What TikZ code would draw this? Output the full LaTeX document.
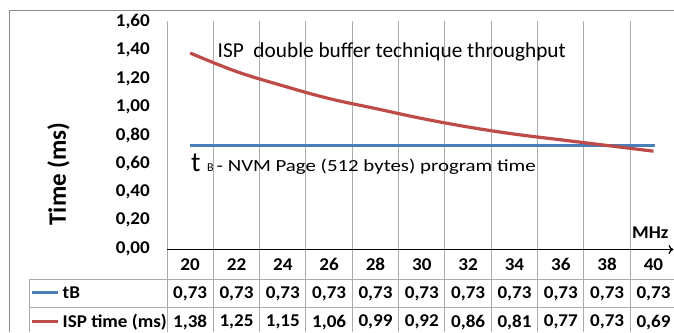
\documentclass[tikz,border=0pt]{standalone}
\usepackage{fontspec}
\setmainfont{Carlito}
\usetikzlibrary{arrows.meta}
\definecolor{xblue}{HTML}{4A7EBB}
\definecolor{xred}{HTML}{BE4B48}
\definecolor{gridc}{HTML}{ABABAB}
\definecolor{framec}{HTML}{8C8C8C}
\newcommand{\hwide}[1]{\scalebox{1.06}[1]{#1}}
\begin{document}
\begin{tikzpicture}[x=1pt,y=-1pt,
  ticklab/.style={font=\fontsize{18}{19}\selectfont\bfseries, inner sep=0pt},
  gridline/.style={draw=gridc, line width=1pt},
  frameline/.style={draw=framec, line width=1pt},
  serblue/.style={draw=xblue, line width=3.2pt},
  serred/.style={draw=xred, line width=3.2pt},
  annot/.style={font=\fontsize{21.3}{22}\selectfont, inner sep=0pt, anchor=base west}]
\useasboundingbox (0,0) rectangle (674,332);
% outer frame
\coordinate (f1) at (9.3,332);
\coordinate (f2) at (9.3,10.3);
\coordinate (f3) at (674,10.3);
\draw[frameline] (f1) -- (f2) -- (f3);
% vertical grid / table lines
\foreach \k in {0,...,10}{
  \coordinate (gt\k) at ({167+46.33*\k},21.3);
  \coordinate (gb\k) at ({167+46.33*\k},332);
  \draw[gridline] (gt\k) -- (gb\k);
}
% table horizontal lines
\coordinate (h1a) at (29.3,279.3); \coordinate (h1b) at (674,279.3);
\coordinate (h2a) at (29.3,307.7); \coordinate (h2b) at (674,307.7);
\coordinate (tl) at (29.3,332);
\draw[gridline] (h1a) -- (h1b);
\draw[gridline] (h2a) -- (h2b);
\draw[gridline] (h1a) -- (tl);
% x axis with arrow
\coordinate (ax0) at (167,249.5);
\coordinate (ax1) at (673.5,249.5);
\draw[line width=1.3pt, -{To[length=5pt,width=9pt]}] (ax0) -- (ax1);
% y tick labels
\foreach \l [count=\i from 0] in {{0,00},{0,20},{0,40},{0,60},{0,80},{1,00},{1,20},{1,40},{1,60}}{
  \node[ticklab, anchor=east] (yt\i) at (150,{248.5-28.35*\i}) {\hwide{\l}};
}
% y axis title
\node[rotate=90, font=\fontsize{25}{26}\selectfont\bfseries, inner sep=0pt] (ytitle) at (58.5,174) {Time (ms)};
% column labels and values
\foreach \l [count=\i from 0] in {20,22,24,26,28,30,32,34,36,38,40}{
  \node[ticklab] (c\i) at ({167+46.33*(\i+0.5)},264.5) {\hwide{\l}};
  \node[ticklab] (b\i) at ({167+46.33*(\i+0.5)},294) {\hwide{0,73}};
}
\foreach \v/\l [count=\i from 0] in {1.38/{1,38},1.25/{1,25},1.15/{1,15},1.06/{1,06},0.99/{0,99},0.92/{0,92},0.86/{0,86},0.81/{0,81},0.77/{0,77},0.73/{0,73},0.69/{0,69}}{
  \node[ticklab] (r\i) at ({167+46.33*(\i+0.5)},322.3) {\hwide{\l}};
  \coordinate (p\i) at ({167+46.33*(\i+0.5)},{249.3-142.2*\v});
}
% series
\coordinate (bl0) at (190.2,145.5);
\coordinate (bl1) at (655,145.5);
\draw[serblue] (bl0) -- (bl1);
\draw[serred, line cap=butt] plot[smooth, tension=0.6] coordinates {(p0) (p1) (p2) (p3) (p4) (p5) (p6) (p7) (p8) (p9) (p10)};
% legend
\coordinate (lb0) at (32,292.7); \coordinate (lb1) at (58,292.7);
\coordinate (lr0) at (32,321.7); \coordinate (lr1) at (58,321.7);
\draw[serblue, line width=3pt] (lb0) -- (lb1);
\draw[serred, line width=3pt] (lr0) -- (lr1);
\node[ticklab, anchor=west] (legb) at (62.5,293) {\hwide{tB}};
\node[ticklab, anchor=west] (legr) at (62.5,322) {\hwide{ISP time (ms)}};
% MHz
\node[ticklab, anchor=west] (mhz) at (632,233) {\hwide{MHz}};
% annotations
\node[annot] (isp) at (217.5,57.7) {ISP\ \ double buffer technique throughput};
\node[annot, font=\fontsize{28}{29}\selectfont] (tt) at (191,171) {t};
\node[annot, font=\fontsize{12}{13}\selectfont] (tsub) at (207,171) {B};
\node[annot, font=\fontsize{17}{18}\selectfont] (trest) at (216.5,171) {\resizebox{319pt}{\height}{- NVM Page (512 bytes) program time}};
\end{tikzpicture}
\end{document}
